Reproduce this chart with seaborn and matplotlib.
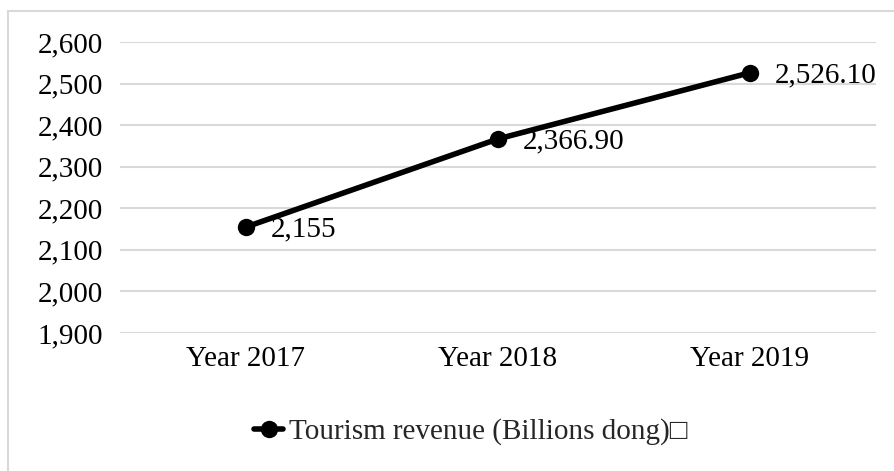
import matplotlib
matplotlib.use("Agg")
import matplotlib.pyplot as plt
from matplotlib.lines import Line2D
from matplotlib.ticker import FuncFormatter
import seaborn as sns
import pandas as pd

# Tourism revenue by year
years = ["Year 2017", "Year 2018", "Year 2019"]
revenue = [2155.0, 2366.9, 2526.1]
value_labels = ["2,155", "2,366.90", "2,526.10"]
series_name = "Tourism revenue (Billions dong)\u25a1"
y_ticks = [1900, 2000, 2100, 2200, 2300, 2400, 2500, 2600]

df = pd.DataFrame({"year": years, "revenue": revenue})

sns.set_theme(style="white")
plt.rcParams["font.family"] = ["Liberation Serif", "DejaVu Serif"]

FS = 21
W, H = 894, 471
fig = plt.figure(figsize=(W / 100, H / 100), dpi=100)
fig.patch.set_facecolor("white")
ax = fig.add_axes([120 / W, 1 - 333 / H, (876 - 120) / W, (333 - 42) / H])

sns.lineplot(data=df, x="year", y="revenue", ax=ax, color="black",
             linewidth=4.0, marker="o", markersize=12.5, markeredgewidth=0,
             label=series_name, legend=False, sort=False)

ax.set_xlim(-0.5, 2.5)
ax.set_ylim(1900, 2600)
ax.set_yticks(y_ticks)
ax.yaxis.set_major_formatter(FuncFormatter(lambda v, p: f"{int(v):,}"))
ax.grid(axis="y", color="#d9d9d9", linewidth=1.5)
ax.grid(axis="x", visible=False)
ax.set_axisbelow(True)
for s in ax.spines.values():
    s.set_visible(False)
ax.set_xlabel("")
ax.set_ylabel("")
ax.tick_params(axis="y", length=0, pad=12, labelsize=FS, labelcolor="black")
ax.tick_params(axis="x", length=0, pad=9, labelsize=FS, labelcolor="black")

# value labels to the right of each point
for i, (v, txt) in enumerate(zip(revenue, value_labels)):
    ax.annotate(txt, xy=(i, v), xytext=(17.5, -2), textcoords="offset points",
                ha="left", va="center", fontsize=FS, color="black")

handle = Line2D([], [], color="black", linewidth=4.0, marker="o",
                markersize=12.5, markeredgewidth=0)
fig.legend([handle], [series_name], loc="center",
           bbox_to_anchor=(471 / W, 1 - 432 / H), frameon=False,
           fontsize=FS, handlelength=1.0, handletextpad=0.2)

# light outer frame
frame_kw = dict(color="#d9d9d9", linewidth=1.5, transform=fig.transFigure)
fig.add_artist(Line2D([7.5 / W, 7.5 / W], [0, 1 - 10.5 / H], **frame_kw))
fig.add_artist(Line2D([7.5 / W, 1], [1 - 10.5 / H, 1 - 10.5 / H], **frame_kw))

fig.savefig("out.png", dpi=100, facecolor="white")
